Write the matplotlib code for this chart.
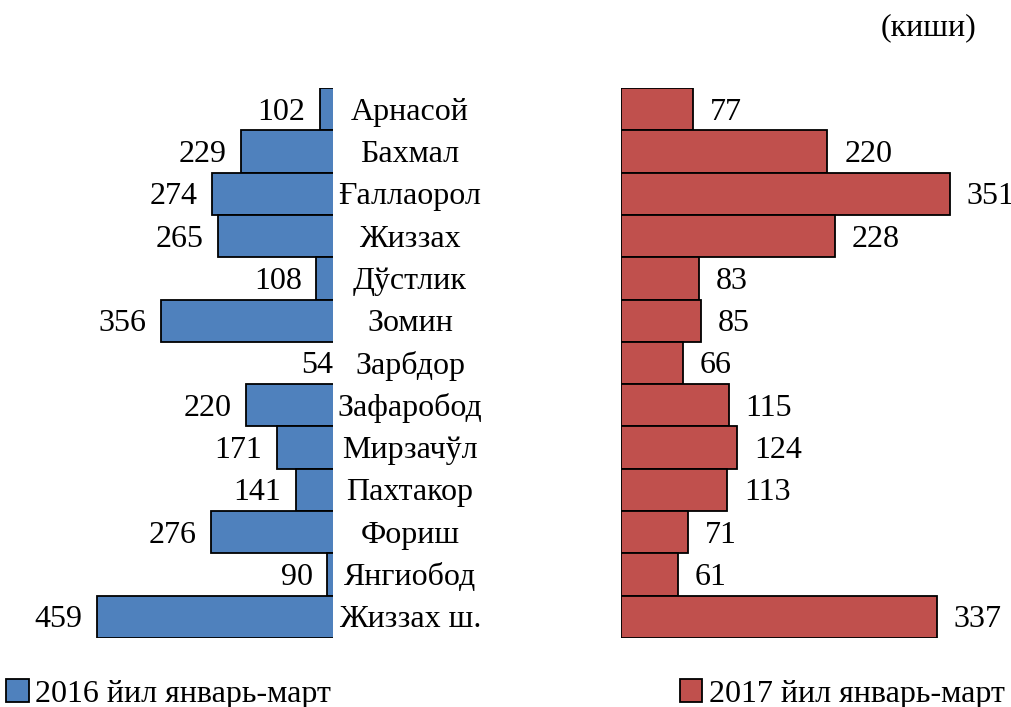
import matplotlib.pyplot as plt
import numpy as np

plt.rcParams['font.family'] = ['Liberation Serif', 'DejaVu Serif']

districts = ["Арнасой", "Бахмал", "Ғаллаорол", "Жиззах", "Дўстлик", "Зомин",
             "Зарбдор", "Зафаробод", "Мирзачўл", "Пахтакор", "Фориш",
             "Янгиобод", "Жиззах ш."]
v2016 = [102, 229, 274, 265, 108, 356, 54, 220, 171, 141, 276, 90, 459]
v2017 = [77, 220, 351, 228, 83, 85, 66, 115, 124, 113, 71, 61, 337]

blue = "#4F81BD"
red = "#C0504D"
fs = 23

fig = plt.figure(figsize=(10.11, 7.07), dpi=100)
W, H = 1011, 707
bot = (H - 638) / H
top = (H - 88) / H

axl = fig.add_axes([0, bot, 333 / W, top - bot])
axr = fig.add_axes([621 / W, bot, (W - 621) / W, top - bot])

y = np.arange(len(districts))

axl.barh(y, v2016, height=1.0, color=blue, edgecolor="black", linewidth=1.3,
         label="2016 йил январь-март")
axl.set_xlim(614, 81)
axr.barh(y, v2017, height=1.0, color=red, edgecolor="black", linewidth=1.3,
         label="2017 йил январь-март")
axr.set_xlim(0, 416)

for ax in (axl, axr):
    ax.set_ylim(len(districts) - 0.5, -0.5)
    ax.axis("off")

dy = 0.07  # text sits a little low, like in the original
xmin = axl.get_xlim()[1]
for i, v in enumerate(v2016):
    pos = v + 23 if v > xmin else xmin
    axl.text(pos, i + dy, str(v), ha="right", va="center",
             fontsize=fs, clip_on=False)
for i, v in enumerate(v2017):
    axr.text(v + 18, i + dy, str(v), ha="left", va="center", fontsize=fs,
             clip_on=False)

for i, name in enumerate(districts):
    axl.text(410 / 333, i + dy, name, ha="center", va="center", fontsize=fs,
             transform=axl.get_yaxis_transform())

fig.text(928 / W, 1 - 28 / H, "(киши)", ha="center", va="center", fontsize=fs)

h1, l1 = axl.get_legend_handles_labels()
h2, l2 = axr.get_legend_handles_labels()
fig.legend(h1, l1, loc="center left", bbox_to_anchor=(0.0, 1 - 694 / H),
           frameon=False, fontsize=fs, handlelength=0.7, handleheight=0.7,
           handletextpad=0.2, borderaxespad=0, borderpad=0.2)
fig.legend(h2, l2, loc="center right", bbox_to_anchor=(1.0, 1 - 694 / H),
           frameon=False, fontsize=fs, handlelength=0.7, handleheight=0.7,
           handletextpad=0.2, borderaxespad=0, borderpad=0.2)

fig.savefig("out.png", dpi=100)
